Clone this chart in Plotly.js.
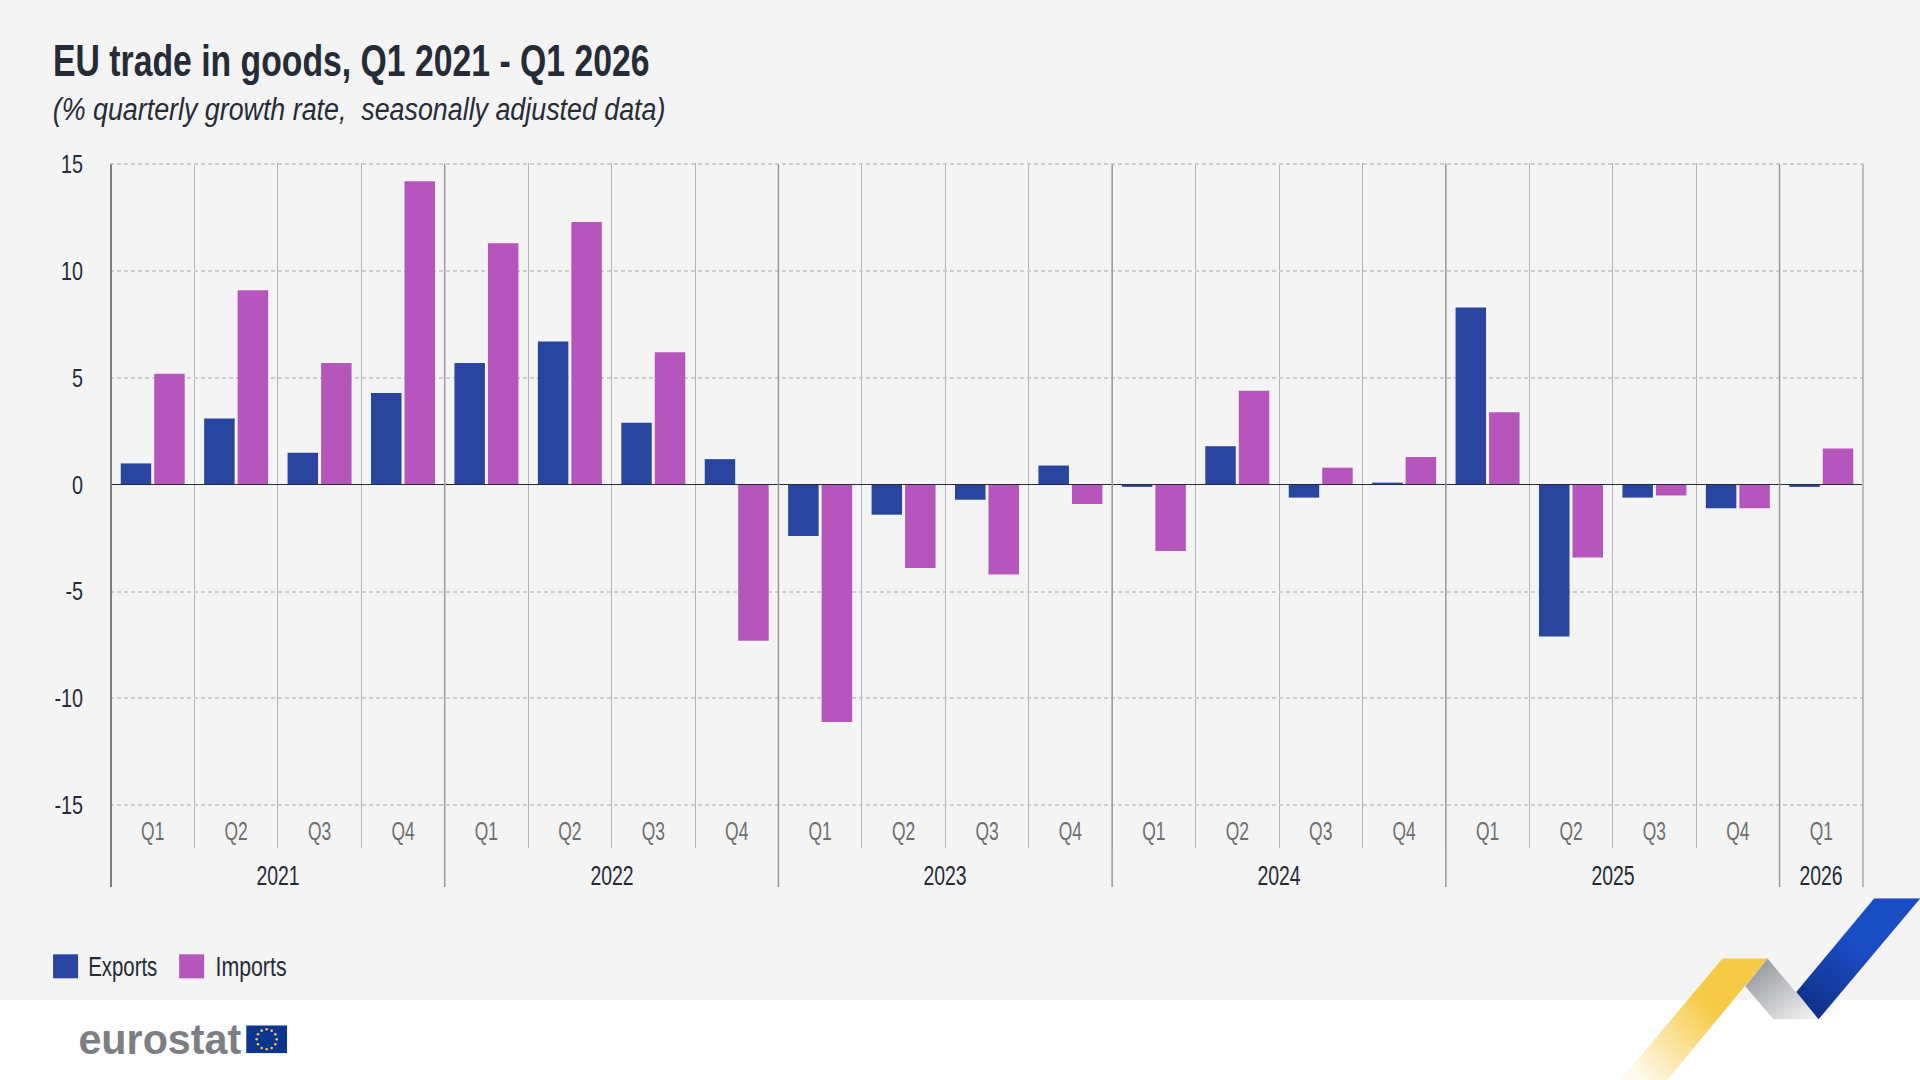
<!DOCTYPE html>
<html>
<head>
<meta charset="utf-8">
<script src="https://cdn.plot.ly/plotly-3.0.1.min.js"></script>
<style>
html, body { margin: 0; padding: 0; background: #fff; }
#chart { width: 1920px; height: 1080px; }
</style>
</head>
<body>
<div id="chart"></div>
<script>
const quarters = ["Q1","Q2","Q3","Q4","Q1","Q2","Q3","Q4","Q1","Q2","Q3","Q4","Q1","Q2","Q3","Q4","Q1","Q2","Q3","Q4","Q1"];
const periods = ["2021Q1","2021Q2","2021Q3","2021Q4","2022Q1","2022Q2","2022Q3","2022Q4","2023Q1","2023Q2","2023Q3","2023Q4","2024Q1","2024Q2","2024Q3","2024Q4","2025Q1","2025Q2","2025Q3","2025Q4","2026Q1"];
const years = ["2021","2022","2023","2024","2025","2026"];
const quartersPerYear = [4,4,4,4,4,1];
const exportsValues = [1.0,3.1,1.5,4.3,5.7,6.7,2.9,1.2,-2.4,-1.4,-0.7,0.9,-0.1,1.8,-0.6,0.1,8.3,-7.1,-0.6,-1.1,-0.1];
const importsValues = [5.2,9.1,5.7,14.2,11.3,12.3,6.2,-7.3,-11.1,-3.9,-4.2,-0.9,-3.1,4.4,0.8,1.3,3.4,-3.4,-0.5,-1.1,1.7];
const yTicks = [-15,-10,-5,0,5,10,15];
const yTickText = ["-15","-10","-5","0","5","10","15"];

const W = 1920, H = 1080;
const left = 110.4, right = 1863.7, top_ = 162.7, bottom = 847.7;
const font = "'Liberation Sans', sans-serif";
const dark = "#262b38", blue = "#2a45a0", purple = "#b655bb";

// pixel position on the page -> paper coordinates
function px(x) { return (x - left) / (right - left); }
function py(y) { return (bottom - y) / (bottom - top_); }

// text is placed by its centre, because it gets narrowed around the centre afterwards
function label(text, x, y, size, color, fontExtra) {
    return {
        text: text, xref: "paper", yref: "paper", x: px(x), y: py(y),
        xanchor: "center", yanchor: "middle", showarrow: false,
        font: Object.assign({family: font, size: size, color: color}, fontExtra || {})
    };
}

function rect(x0, y0, x1, y1, color) {
    return {type: "rect", xref: "paper", yref: "paper", x0: px(x0), x1: px(x1), y0: py(y0), y1: py(y1),
        fillcolor: color, line: {width: 0}, layer: "below"};
}

let shapes = [rect(0, 0, W, 1000, "#f4f4f4")];
let annotations = [
    label("(% quarterly growth rate,  seasonally adjusted data)", 359.5, 109, 31, dark, {style: "italic"}),
    label("Exports", 123, 967, 27, dark),
    label("Imports", 251, 967, 27, dark),
    label("eurostat", 160, 1039, 43, "#7b7e83", {weight: 700})
];
const annotationRatios = [0.865, 0.755, 0.79, 0.96];
shapes.push(rect(53.5, 954, 78.5, 978, blue));
shapes.push(rect(179.5, 954, 204.5, 978, purple));

// year separators and year labels under the quarters
let pos = -0.5;
for (let i = 0; i <= years.length; i++) {
    let isLast = i === years.length;
    shapes.push({type: "line", xref: "x", yref: "paper", x0: pos, x1: pos, y0: py(886.7), y1: py(164),
        line: {color: isLast ? "#bcbcbc" : (i === 0 ? "#7a7f87" : "#9a9a9a"), width: i === 0 || isLast ? 2 : 1.5}});
    if (!isLast) {
        annotations.push({text: years[i], xref: "x", yref: "paper", x: pos + quartersPerYear[i] / 2, y: py(876),
            xanchor: "center", yanchor: "middle", showarrow: false, font: {family: font, size: 27, color: dark}});
        annotationRatios.push(0.72);
        pos += quartersPerYear[i];
    }
}

// ribbon and flag are pictures, the library has no gradient fill for shapes
const ribbon = `<svg xmlns="http://www.w3.org/2000/svg" width="300" height="182" viewBox="1620 898 300 182">
<defs>
<linearGradient id="g" gradientUnits="userSpaceOnUse" x1="1715" y1="1010" x2="1640" y2="1080"><stop offset="0" stop-color="#f6ca45"/><stop offset="1" stop-color="#fffaf0"/></linearGradient>
<linearGradient id="s" gradientUnits="userSpaceOnUse" x1="1755" y1="965" x2="1800" y2="1025"><stop offset="0" stop-color="#96999e"/><stop offset="1" stop-color="#f0f0f0"/></linearGradient>
<linearGradient id="b" gradientUnits="userSpaceOnUse" x1="1860" y1="950" x2="1815" y2="1020"><stop offset="0" stop-color="#1a4cc4"/><stop offset="1" stop-color="#102f85"/></linearGradient>
</defs>
<path d="M1767.3 958.3L1818.3 1019H1773.3L1745 986Z" fill="url(#s)"/>
<path d="M1722.3 958.3H1767.3L1666.7 1080H1620Z" fill="url(#g)"/>
<path d="M1874 898H1920L1818.3 1019L1796 991.7Z" fill="url(#b)"/>
</svg>`;

let stars = "";
for (let i = 0; i < 12; i++) {
    let a = i * Math.PI / 6;
    stars += `<circle cx="${20.5 + 10 * Math.cos(a)}" cy="${14 + 10 * Math.sin(a)}" r="1.3" fill="#f5c83c"/>`;
}
const flag = `<svg xmlns="http://www.w3.org/2000/svg" width="41" height="28" viewBox="0 0 41 28"><rect width="41" height="28" fill="#0b3590"/>${stars}</svg>`;

function svgUri(s) { return "data:image/svg+xml;charset=utf-8," + encodeURIComponent(s); }

const images = [
    {source: svgUri(ribbon), xref: "paper", yref: "paper", x: px(1620), y: py(898), sizex: 300 / (right - left), sizey: 182 / (bottom - top_),
        sizing: "stretch", xanchor: "left", yanchor: "top", layer: "above"},
    {source: svgUri(flag), xref: "paper", yref: "paper", x: px(246.5), y: py(1025), sizex: 41 / (right - left), sizey: 28 / (bottom - top_),
        sizing: "stretch", xanchor: "left", yanchor: "top", layer: "above"}
];

const data = [
    {type: "bar", name: "Exports", x: periods, y: exportsValues, marker: {color: blue}},
    {type: "bar", name: "Imports", x: periods, y: importsValues, marker: {color: purple}}
];

const layout = {
    width: W, height: H,
    margin: {l: left, r: W - right, t: top_, b: H - bottom, pad: 0},
    paper_bgcolor: "#ffffff",
    plot_bgcolor: "rgba(0,0,0,0)",
    showlegend: false,
    barmode: "group",
    bargap: 0.197,
    bargroupgap: 0.09,
    title: {text: "EU trade in goods, Q1 2021 - Q1 2026", xref: "container", yref: "container", x: 53 / W, xanchor: "left", y: 1 - 60 / H, yanchor: "middle",
        font: {family: font, size: 45, color: dark, weight: 700}},
    xaxis: {
        type: "category",
        categoryorder: "array",
        categoryarray: periods,
        tickmode: "array",
        tickvals: periods,
        ticktext: quarters,
        tickson: "boundaries",
        ticks: "",
        showgrid: true,
        gridcolor: "#b4b4b4",
        gridwidth: 1,
        showline: false,
        zeroline: false,
        ticklabelposition: "inside",
        tickfont: {family: font, size: 26, color: "#6f6f6f"}
    },
    yaxis: {
        range: [-17, 15.06],
        tickmode: "array",
        tickvals: yTicks,
        ticktext: yTickText,
        showgrid: true,
        gridcolor: "#cdcdcd",
        griddash: "4px,3px",
        gridwidth: 2,
        zeroline: true,
        zerolinecolor: dark,
        zerolinewidth: 1,
        zerolinelayer: "above traces",
        showline: false,
        ticks: "",
        ticklabelstandoff: 26,
        tickfont: {family: font, size: 25, color: dark}
    },
    shapes: shapes,
    annotations: annotations,
    images: images
};

// the reference font is a condensed one and none is installed, so the glyphs get narrowed
function narrow(el, ratio) {
    el.setAttribute("textLength", el.getComputedTextLength() * ratio);
    el.setAttribute("lengthAdjust", "spacingAndGlyphs");
}

Plotly.newPlot("chart", data, layout, {displayModeBar: false, staticPlot: true}).then(function (gd) {
    gd.querySelectorAll(".gtitle").forEach(el => narrow(el, 0.75));
    gd.querySelectorAll(".xtick text").forEach(el => narrow(el, 0.67));
    gd.querySelectorAll(".ytick text").forEach(el => narrow(el, 0.79));
    gd.querySelectorAll(".annotation-text").forEach((el, i) => narrow(el, annotationRatios[i]));
});
</script>
</body>
</html>
